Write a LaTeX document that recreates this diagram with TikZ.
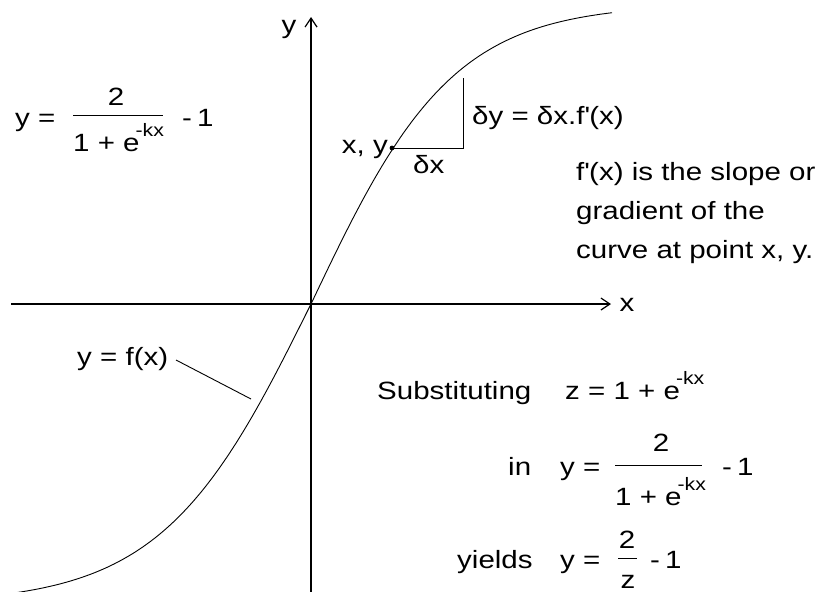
\documentclass[tikz,border=0pt]{standalone}
\usepackage{fontspec}
\setmainfont{Liberation Sans}[FakeStretch=1.18]
\usetikzlibrary{arrows.meta}
\newcommand\myekx{e\kern-4pt\raisebox{15pt}{\fontsize{18}{18}\selectfont -kx}}
\newcommand\myq{\textquotesingle}
\begin{document}
\begin{tikzpicture}[x=1pt,y=-1pt,
  txt/.style={anchor=base west, inner sep=0pt, font=\fontsize{25}{30}\selectfont},
  txtc/.style={anchor=base, inner sep=0pt, font=\fontsize{25}{30}\selectfont},
  axisline/.style={line width=1.2pt, -{Straight Barb[length=9pt,width=12pt]}},
  curveline/.style={line width=0.9pt},
  thinline/.style={line width=1pt},
  fracbar/.style={line width=1pt}]
\useasboundingbox (0,0) rectangle (828,592);
% axes
\coordinate (xl) at (11,304);
\coordinate (xr) at (611,304);
\coordinate (yb) at (311,592);
\coordinate (yt) at (311,17);
\draw[axisline] (xl) -- (xr);
\draw[axisline] (yb) -- (yt);
\node[txtc] (ylab) at (289,33) {y};
\node[txtc] (xlab) at (627,311) {x};
% curve y = tanh-shaped (upper and lower halves)
\coordinate (O) at (311,304);
\draw[curveline] plot[domain=-311:0, samples=80, smooth] ({\x+311},{304-300*tanh(0.0067*\x)})
  -- plot[domain=0:301, samples=80, smooth] ({\x+311},{304-300*tanh(0.007*\x)});
% point and triangle
\coordinate (P) at (392,148);
\coordinate (Q) at (463,148);
\coordinate (R) at (463,78);
\draw[thinline] (P) -- (Q) -- (R);
\fill (P) circle (2.4pt);
\node[txt, anchor=base east] (xy) at (388,153) {x, y};
\node[txt] (dx) at (413,173) {δx};
\node[txt] (dy) at (472,124) {δy = δx.f\myq(x)};
% explanation
\node[txt] (e1) at (576,180) {f\myq(x) is the slope or};
\node[txt] (e2) at (576,219) {gradient of the};
\node[txt] (e3) at (576,258) {curve at point x, y.};
% top-left formula
\node[txt] (tlY) at (15,126) {y =};
\node[txtc] (tlNum) at (116,105) {2};
\draw[fracbar] (73,115) -- (163,115);
\node[txt] (tlDen) at (73,151) {1 + \myekx};
\node[txt] (tlM) at (182,126) {-\kern5pt1};
% y = f(x) label
\node[txt] (fx) at (77,365) {y = f(x)};
\coordinate (ldA) at (176,360);
\coordinate (ldB) at (251,399);
\draw[curveline] (ldA) -- (ldB);
% substituting
\node[txt] (sub) at (377,399) {Substituting};
\node[txt] (subZ) at (565,399) {z = 1 + \myekx};
% in
\node[txt] (inW) at (508,475) {in};
\node[txt] (inY) at (560,475) {y =};
\node[txtc] (inNum) at (661,451) {2};
\draw[fracbar] (615,465) -- (702,465);
\node[txt] (inDen) at (615,505) {1 + \myekx};
\node[txt] (inM) at (722,475) {-\kern5pt1};
% yields
\node[txt] (yW) at (457,568) {yields};
\node[txt] (yY) at (560,568) {y =};
\node[txtc] (yNum) at (627,548) {2};
\draw[fracbar] (618,558) -- (637,558);
\node[txtc, text depth=0pt] (yDen) at (628,588) {z};
\node[txt] (yM) at (650,568) {-\kern5pt1};
\end{tikzpicture}
\end{document}
